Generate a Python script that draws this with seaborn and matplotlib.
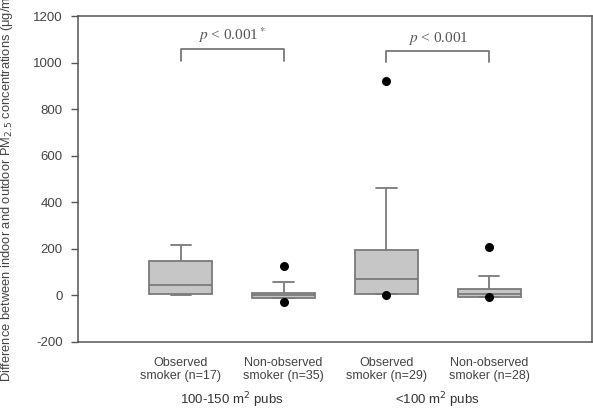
import numpy as np
import pandas as pd
import matplotlib
matplotlib.use("Agg")
import matplotlib.pyplot as plt
import seaborn as sns

# ---- data ----
categories = ["Observed\nsmoker (n=17)", "Non-observed\nsmoker (n=35)",
              "Observed\nsmoker (n=29)", "Non-observed\nsmoker (n=28)"]
# five-number summaries: lower whisker, Q1, median, Q3, upper whisker
box_obs_large = [3, 7, 45, 146, 218]
box_non_large = [-12, -12, 0, 10, 57]
box_obs_small = [7, 7, 72, 196, 462]
box_non_small = [-5, -5, 8, 27, 82]
outliers_obs_large = []
outliers_non_large = [126, -29]
outliers_obs_small = [920, 0]
outliers_non_small = [206, -5]
group_labels = ["100-150 m$^2$ pubs", "<100 m$^2$ pubs"]
p_labels = ["$p$ < 0.001$^*$", "$p$ < 0.001"]
p_label_y = [1118, 1105]
bracket_top = [1058, 1048]
bracket_drop = [50, 47]
yticks = [-200, 0, 200, 400, 600, 800, 1000, 1200]

boxes = [box_obs_large, box_non_large, box_obs_small, box_non_small]
outs = [outliers_obs_large, outliers_non_large, outliers_obs_small, outliers_non_small]

box_df = pd.DataFrame({"group": np.repeat(categories, [len(b) for b in boxes]),
                       "value": np.concatenate(boxes)})
out_df = pd.DataFrame({"group": np.repeat(categories, [len(o) for o in outs]),
                       "value": np.concatenate([np.array(o, dtype=float) for o in outs])})

sns.set_theme(style="white")
plt.rcParams["font.family"] = ["Liberation Sans", "DejaVu Sans"]
plt.rcParams["axes.unicode_minus"] = False

fig = plt.figure(figsize=(5.93, 4.12), dpi=100)
W, H = 593, 412
ax = fig.add_axes([78 / W, (H - 342) / H, 514 / W, (342 - 16) / H])

edge = "#7a7a7a"
sns.boxplot(data=box_df, x="group", y="value", order=categories, ax=ax,
            whis=(0, 100), showfliers=False, width=0.61,
            color="#c6c6c6", linecolor=edge, linewidth=1.3, saturation=1,
            capwidths=0.2)
sns.stripplot(data=out_df, x="group", y="value", order=categories, ax=ax,
              jitter=False, color="black", size=6.5, linewidth=0, zorder=5)

ax.set_xlim(-1, 4)
ax.set_ylim(-200, 1200)
ax.set_yticks(yticks)
ax.set_xlabel("")
ax.set_ylabel("")
ax.tick_params(axis="y", left=True, length=5, width=1, color="#555555",
               labelsize=9.5, labelcolor="#444444", pad=6)
ax.tick_params(axis="x", bottom=False, labelsize=9, labelcolor="#444444", pad=5)
for lab in ax.get_xticklabels():
    lab.set_linespacing(1.1)
for s in ax.spines.values():
    s.set_color("#555555")
    s.set_linewidth(1.1)
    s.set_visible(True)

# significance brackets
for i, (top, drop, lab, ly) in enumerate(zip(bracket_top, bracket_drop, p_labels, p_label_y)):
    x0, x1 = 2 * i, 2 * i + 1
    ax.plot([x0, x0, x1, x1], [top - drop, top, top, top - drop],
            color="#777777", lw=1.3, clip_on=False)
    ax.text((x0 + x1) / 2, ly, lab, ha="center", va="center",
            fontsize=11, color="#555555", family=["Liberation Serif", "DejaVu Serif"],
            math_fontfamily="stix")

# group labels
for i, lab in enumerate(group_labels):
    ax.text(2 * i + 0.5, -58 / 326, lab, transform=ax.get_xaxis_transform(),
            ha="center", va="center", fontsize=9.5, color="#333333")

fig.text(7 / W, 1 - 382 / H,
         "Difference between indoor and outdoor PM$_{2.5}$ concentrations (\u03bcg/m$^3$)",
         rotation=90, ha="center", va="bottom", fontsize=9.3, color="#444444")

fig.savefig("out.png", dpi=100)
